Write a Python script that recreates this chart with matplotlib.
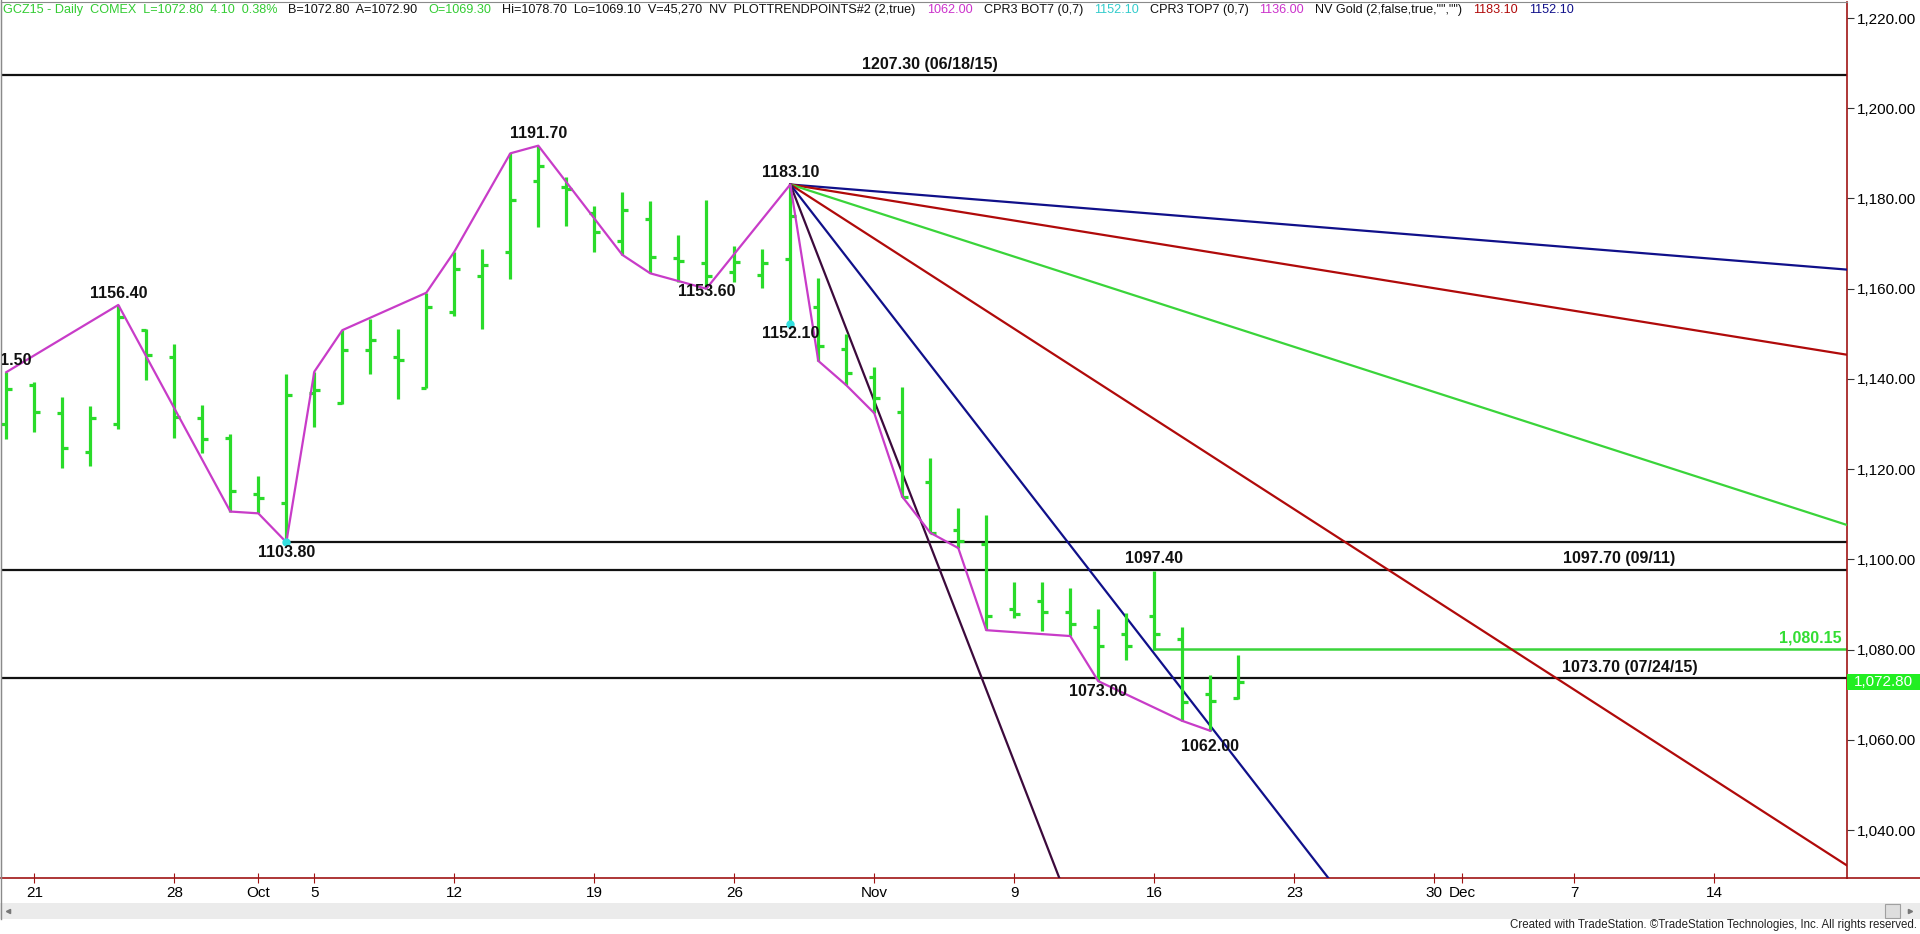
import matplotlib
matplotlib.use("Agg")
import matplotlib.pyplot as plt
import matplotlib.transforms as mtransforms
from matplotlib.patches import Rectangle
from matplotlib.lines import Line2D
import numpy as np
import pandas as pd

plt.rcParams["font.family"] = ["Liberation Sans", "DejaVu Sans"]

W, H = 1920, 934

# ─── daily bars GCZ15 (Sep 18 .. Nov 19 2015)
bar_dates = pd.bdate_range("2015-09-18", "2015-11-19")
opens = [1130.0, 1138.6, 1132.4, 1123.8, 1130.0, 1150.8, 1144.8, 1131.3, 1127.0, 1114.4,
         1112.4, 1136.8, 1134.6, 1146.4, 1144.8, 1137.9, 1154.8, 1162.8, 1168.1, 1183.9,
         1182.5, 1176.7, 1170.5, 1175.5, 1166.7, 1165.8, 1163.8, 1163.1, 1166.5, 1156.0,
         1146.6, 1140.5, 1132.7, 1117.2, 1106.6, 1103.5, 1089.0, 1090.8, 1088.4, 1085.1,
         1083.4, 1087.5, 1082.3, 1070.1, 1069.3]
highs = [1141.5, 1139.4, 1136.1, 1134.1, 1156.4, 1151.0, 1147.7, 1134.2, 1127.7, 1118.5,
         1141.0, 1141.6, 1150.8, 1153.2, 1151.0, 1159.1, 1168.2, 1168.7, 1190.0, 1191.7,
         1184.8, 1178.3, 1181.5, 1179.4, 1171.9, 1179.7, 1169.5, 1168.8, 1183.1, 1162.4,
         1149.9, 1142.7, 1138.1, 1122.4, 1111.3, 1109.8, 1095.0, 1094.9, 1093.6, 1089.0,
         1088.0, 1097.4, 1085.1, 1074.4, 1078.7]
lows = [1126.6, 1128.3, 1120.2, 1120.7, 1129.0, 1139.8, 1126.8, 1123.5, 1110.6, 1110.2,
        1103.8, 1129.3, 1134.4, 1141.0, 1135.5, 1137.9, 1153.9, 1151.0, 1162.1, 1173.6,
        1174.0, 1168.1, 1167.5, 1163.4, 1161.5, 1160.0, 1161.5, 1160.1, 1152.1, 1144.0,
        1138.6, 1132.4, 1113.9, 1105.9, 1102.5, 1084.3, 1086.9, 1084.1, 1083.0, 1073.0,
        1077.8, 1080.0, 1064.2, 1062.0, 1069.1]
closes = [1137.7, 1132.6, 1124.6, 1131.3, 1153.8, 1145.4, 1131.6, 1126.6, 1115.1, 1113.5,
          1136.4, 1137.5, 1146.4, 1148.6, 1144.2, 1155.9, 1164.3, 1165.2, 1179.7, 1187.3,
          1182.0, 1172.6, 1177.4, 1167.0, 1166.1, 1162.8, 1166.0, 1165.6, 1176.1, 1147.2,
          1141.2, 1135.7, 1113.9, 1105.9, 1104.1, 1087.5, 1087.8, 1088.4, 1085.6, 1080.8,
          1080.8, 1083.4, 1068.4, 1068.6, 1072.8]

# trading-day calendar incl. projected space to the right
calendar = pd.bdate_range("2015-09-18", "2015-12-31")

# ─── trend points (magenta swing line)
zig_dates = ["2015-09-18", "2015-09-24", "2015-09-30", "2015-10-01", "2015-10-02", "2015-10-05",
             "2015-10-06", "2015-10-09", "2015-10-12", "2015-10-14", "2015-10-15", "2015-10-20",
             "2015-10-21", "2015-10-23", "2015-10-28", "2015-10-29", "2015-10-30", "2015-11-02",
             "2015-11-03", "2015-11-04", "2015-11-05", "2015-11-06", "2015-11-11", "2015-11-12",
             "2015-11-17", "2015-11-18"]
zig_prices = [1141.5, 1156.4, 1110.6, 1110.2, 1103.8, 1141.6, 1150.8, 1159.1, 1168.2, 1190.0,
              1191.7, 1167.5, 1163.4, 1160.0, 1183.1, 1144.0, 1138.6, 1132.4, 1113.9, 1105.9,
              1102.5, 1084.3, 1083.0, 1073.0, 1064.2, 1062.0]

# pivot labels
lab_dates = ["2015-09-18", "2015-09-24", "2015-10-02", "2015-10-15", "2015-10-23",
             "2015-10-28", "2015-10-28", "2015-11-16", "2015-11-12", "2015-11-18"]
lab_prices = [1141.5, 1156.4, 1103.8, 1191.7, 1160.0, 1183.1, 1152.1, 1097.4, 1073.0, 1062.0]
lab_texts = ["1141.50", "1156.40", "1103.80", "1191.70", "1153.60",
             "1183.10", "1152.10", "1097.40", "1073.00", "1062.00"]
lab_dx = [-4, 0, 0, 0, 0, 0, 0, 0, 0, 0]
lab_dy = [12, 11, -10, 12, -3, 12, -9, 13, -10, -16]   # px, + = above

cyan_dates = ["2015-10-02", "2015-10-28"]
cyan_prices = [1103.8, 1152.1]

# ─── Gann-style fan from the 1183.10 top
fan_date = "2015-10-28"
fan_price = 1183.1
fan_slopes = [-0.5, -1, -2, -4, -8, -16]     # $ per bar
fan_colors = ["#10108a", "#b00a0a", "#3ad43a", "#b00a0a", "#10108a", "#3c0a3c"]

# ─── horizontal levels
level_prices = [1207.3, 1103.8, 1097.7, 1073.7]
level_start = [None, "2015-10-02", None, None]
level_labels = ["1207.30 (06/18/15)", "", "1097.70 (09/11)", "1073.70 (07/24/15)"]
level_label_x = [33.0, 0, 57.6, 58.0]
target_price = 1080.15
target_start = "2015-11-16"

last_price = closes[-1]

GREEN = "#2adb2a"
RED_AX = "#a01414"

fig = plt.figure(figsize=(W / 100, H / 100), dpi=100, facecolor="white")
x0, x1 = 1 / W, 1846.7 / W
y0, y1 = (H - 878.3) / H, (H - 2) / H
ax = fig.add_axes([x0, y0, x1 - x0, y1 - y0])

pos = lambda d: calendar.get_loc(pd.Timestamp(d))
xb = np.array([pos(d) for d in bar_dates])

XMIN, XMAX = -0.19, 65.73

# horizontal levels
for p, s in zip(level_prices, level_start):
    xs = XMIN if s is None else pos(s)
    ax.plot([xs, XMAX], [p, p], color="#111111", lw=1.6, zorder=2)
for p, t, lx in zip(level_prices, level_labels, level_label_x):
    if t:
        ax.annotate(t, (lx, p), xytext=(0, 11), textcoords="offset pixels",
                    ha="center", va="center", fontsize=11.5, fontweight="bold", color="#111111")
ax.plot([pos(target_start), XMAX], [target_price, target_price], color="#3ad43a", lw=1.8, zorder=2)
ax.annotate(f"{target_price:,.2f}", (XMAX, target_price), xytext=(-5, 11), textcoords="offset pixels",
            ha="right", va="center", fontsize=11.5, fontweight="bold", color="#33dd33")

# fan lines
fx = pos(fan_date)
for s, c in zip(fan_slopes, fan_colors):
    ax.plot([fx, XMAX + 1], [fan_price, fan_price + s * (XMAX + 1 - fx)], color=c, lw=1.6, zorder=3)

# OHLC bars
tk = 0.2
ax.vlines(xb, lows, highs, color=GREEN, lw=2.3, zorder=4)
ax.hlines(opens, xb - tk, xb, color=GREEN, lw=2.3, zorder=4)
ax.hlines(closes, xb, xb + tk, color=GREEN, lw=2.3, zorder=4)

# swing line
ax.plot([pos(d) for d in zig_dates], zig_prices, color="#c83cc8", lw=1.6, zorder=5)
ax.plot([pos(d) for d in cyan_dates], cyan_prices, "o", color="#33e0e0", ms=5, zorder=6)

for d, p, t, dx, dy in zip(lab_dates, lab_prices, lab_texts, lab_dx, lab_dy):
    ax.annotate(t, (pos(d), p), xytext=(dx, dy), textcoords="offset pixels",
                ha="center", va="center", fontsize=11.5, fontweight="bold", color="#111111", zorder=7)

# axes styling
for side in ["left", "top"]:
    ax.spines[side].set_color("#8a8a8a")
for side in ["right", "bottom"]:
    ax.spines[side].set_color(RED_AX)
    ax.spines[side].set_linewidth(1.2)

ax.yaxis.tick_right()
yt = np.arange(1040, 1221, 20)
ax.set_yticks(yt)
ax.set_yticklabels([f"{v:,.2f}" for v in yt])
ax.tick_params(axis="y", direction="out", length=5, color="#333333", labelsize=11, pad=2)

xt, xl = [], []
for i, d in enumerate(calendar):
    if i > XMAX:
        break
    first = (d - pd.offsets.BDay(1)).month != d.month
    if first:
        xt.append(i); xl.append(d.strftime("%b"))
    elif d.weekday() == 0:
        xt.append(i); xl.append(str(d.day))
ax.set_xticks(xt)
ax.set_xticklabels(xl)
ax.tick_params(axis="x", direction="inout", length=7, color=RED_AX, labelsize=11, pad=2)

ax.set_xlim(XMIN, XMAX)
ax.set_ylim(1029.3, 1223.55)

# last price flag
bt = mtransforms.blended_transform_factory(fig.transFigure, ax.transData)
fig.patches.append(Rectangle((x1, last_price - 1.8), 1 - x1, 3.6, transform=bt,
                             facecolor="#22ee22", edgecolor="none", zorder=10))
fig.text((x1 + 1) / 2, 0, f"{last_price:,.2f}", transform=bt, ha="center", va="center",
         fontsize=11, color="white", zorder=11).set_y(last_price)

# bottom axis line continues to the figure edge
fig.lines.append(Line2D([x1, 1], [y0, y0], transform=fig.transFigure, color=RED_AX, lw=1.2))

# scrollbar strip + footer
fig.patches.append(Rectangle((0, (H - 919) / H), 1, 16 / H, transform=fig.transFigure,
                             facecolor="#ebebeb", edgecolor="none"))
fig.patches.append(Rectangle((1885 / W, (H - 918) / H), 15 / W, 14 / H, transform=fig.transFigure,
                             facecolor="#dedede", edgecolor="#a0a0a0", lw=0.8))
fig.lines.append(Line2D([8 / W], [(H - 911) / H], transform=fig.transFigure, marker="<",
                        ms=3, color="#777777", ls="none"))
fig.lines.append(Line2D([1910 / W], [(H - 911) / H], transform=fig.transFigure, marker=">",
                        ms=3, color="#777777", ls="none"))
fig.lines.append(Line2D([x0, x0], [(H - 919) / H, 1], transform=fig.transFigure, color="#8a8a8a", lw=1))
fig.text(1917 / W, 1 - 925 / H,
         "Created with TradeStation. \u00a9TradeStation Technologies, Inc. All rights reserved.",
         ha="right", va="center", fontsize=8.3, color="#222222")

# header line
header = [
    ("GCZ15 - Daily  COMEX  L=1072.80  4.10  0.38%", "#33cc33"),
    ("B=1072.80  A=1072.90", "#111111"),
    ("O=1069.30", "#33cc33"),
    ("Hi=1078.70  Lo=1069.10  V=45,270  NV  PLOTTRENDPOINTS#2 (2,true)", "#111111"),
    ("1062.00", "#cc33cc"),
    ("CPR3 BOT7 (0,7)", "#111111"),
    ("1152.10", "#33cccc"),
    ("CPR3 TOP7 (0,7)", "#111111"),
    ("1136.00", "#cc33cc"),
    ('NV Gold (2,false,true,"","")', "#111111"),
    ("1183.10", "#b00a0a"),
    ("1152.10", "#10108a"),
]
renderer = fig.canvas.get_renderer()
cx = 3
for txt, col in header:
    t = fig.text(cx / W, 1 - 10 / H, txt, ha="left", va="center", fontsize=9.1, color=col)
    cx += t.get_window_extent(renderer).width + 11

fig.savefig("out.png", dpi=100, facecolor="white")
